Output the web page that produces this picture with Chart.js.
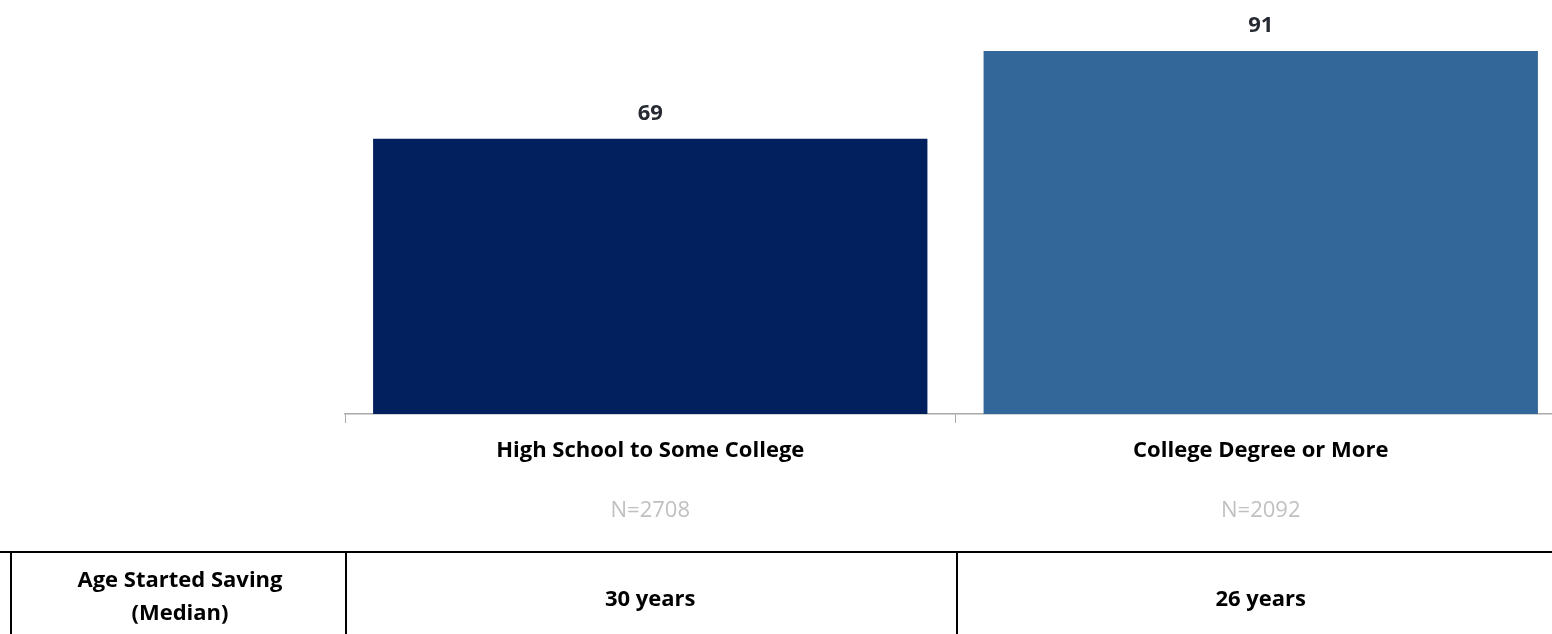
<!DOCTYPE html>
<html>
<head>
<meta charset="utf-8">
<script src="https://cdn.jsdelivr.net/npm/chart.js@4.4.1/dist/chart.umd.min.js"></script>
<style>
  html, body { margin: 0; padding: 0; background: #fff; overflow: hidden; }
  .chart-box { position: relative; width: 1566px; height: 634px; }
</style>
</head>
<body>
<div class="chart-box"><canvas id="eduChart"></canvas></div>
<script>
// Chart data
const categories = ['High School to Some College', 'College Degree or More'];
const values = [69, 91];
const sampleSizes = ['N=2708', 'N=2092'];
const ageStarted = ['30 years', '26 years'];
const rowHeader = ['Age Started Saving', '(Median)'];
const barColors = ['#02205e', '#336799'];

const FONT = '"Open Sans", Lato, sans-serif';

// Value labels above each bar
const valueLabels = {
    id: 'valueLabels',
    afterDatasetsDraw(chart) {
        const ctx = chart.ctx;
        const meta = chart.getDatasetMeta(0);
        ctx.save();
        ctx.font = 'bold 22px ' + FONT;
        ctx.fillStyle = '#262a33';
        ctx.textAlign = 'center';
        ctx.textBaseline = 'alphabetic';
        meta.data.forEach((bar, i) => {
            ctx.fillText(values[i], bar.x, bar.y - 19);
        });
        ctx.restore();
    }
};

// N= labels and the table underneath
const bottomTable = {
    id: 'bottomTable',
    afterDraw(chart) {
        const ctx = chart.ctx;
        const x = chart.scales.x;
        const step = x.width / categories.length;
        const tableTop = 552;
        const left = 11;
        ctx.save();
        ctx.textAlign = 'center';
        ctx.textBaseline = 'alphabetic';

        // sample sizes
        ctx.font = '22px ' + FONT;
        ctx.fillStyle = '#c0c0c0';
        sampleSizes.forEach((s, i) => ctx.fillText(s, x.getPixelForValue(i), 517));

        // grid lines
        ctx.strokeStyle = '#000';
        ctx.lineWidth = 2;
        ctx.beginPath();
        ctx.moveTo(0, tableTop);
        ctx.lineTo(chart.width, tableTop);
        ctx.moveTo(left, tableTop);
        ctx.lineTo(left, chart.height);
        for (let i = 0; i < categories.length; i++) {
            const bx = Math.round(x.getPixelForValue(i) - step / 2) + 1;
            ctx.moveTo(bx, tableTop);
            ctx.lineTo(bx, chart.height);
        }
        ctx.stroke();

        // header cell
        ctx.font = 'bold 22px ' + FONT;
        ctx.fillStyle = '#000';
        const hx = (left + x.left) / 2 + 2;
        ctx.fillText(rowHeader[0], hx, 587);
        ctx.fillText(rowHeader[1], hx, 620);

        // values
        ageStarted.forEach((a, i) => ctx.fillText(a, x.getPixelForValue(i), 606));
        ctx.restore();
    }
};

new Chart(document.getElementById('eduChart'), {
    type: 'bar',
    data: {
        labels: categories,
        datasets: [{
            data: values,
            backgroundColor: barColors,
            borderWidth: 0,
            categoryPercentage: 0.908,
            barPercentage: 1
        }]
    },
    options: {
        responsive: true,
        maintainAspectRatio: false,
        animation: false,
        layout: { padding: { left: 345, right: 0, top: 15, bottom: 0 } },
        plugins: {
            legend: { display: false },
            tooltip: { enabled: false }
        },
        scales: {
            y: {
                display: false,
                min: 0,
                max: 100
            },
            x: {
                afterFit(scale) { scale.height = 220; },
                grid: {
                    display: true,
                    offset: true,
                    drawOnChartArea: false,
                    drawTicks: true,
                    tickLength: 9,
                    color: '#aaaaaa'
                },
                border: { display: true, color: '#aaaaaa', width: 1.5 },
                ticks: {
                    padding: 15,
                    color: '#000',
                    font: { family: FONT, size: 22, weight: 'bold' }
                }
            }
        }
    },
    plugins: [valueLabels, bottomTable]
});
</script>
</body>
</html>
